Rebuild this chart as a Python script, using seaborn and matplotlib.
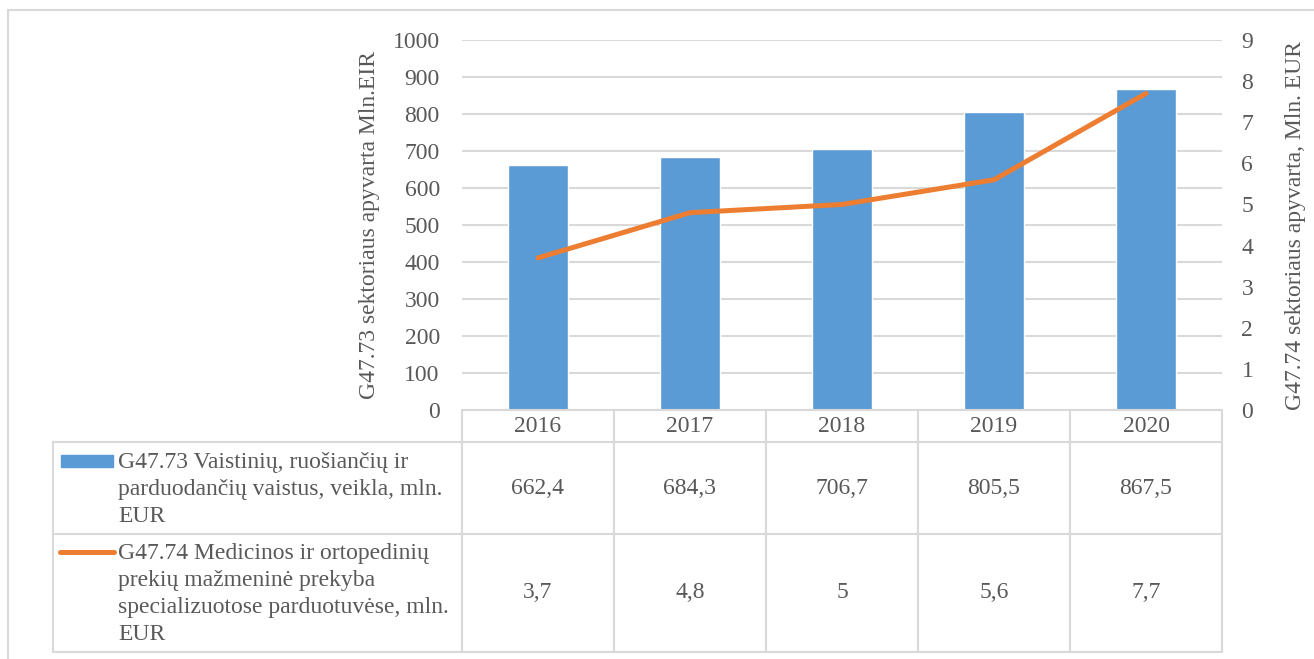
import numpy as np
import pandas as pd
import seaborn as sb
from matplotlib import pyplot as plt
from matplotlib.lines import Line2D
from matplotlib.patches import Rectangle

years = ['2016', '2017', '2018', '2019', '2020']
g4773 = [662.4, 684.3, 706.7, 805.5, 867.5]
g4774 = [3.7, 4.8, 5.0, 5.6, 7.7]

bar_name = 'G47.73 Vaistinių, ruošiančių ir\nparduodančių vaistus, veikla, mln.\nEUR'
line_name = 'G47.74 Medicinos ir ortopedinių\nprekių mažmeninė prekyba\nspecializuotose parduotuvėse, mln.\nEUR'
left_label = 'G47.73 sektoriaus apyvarta Mln.EIR'
right_label = 'G47.74 sektoriaus apyvarta, Mln. EUR'

blue = '#5B9BD5'
orange = '#ED7D31'
grey = '#595959'
grid = '#D9D9D9'

sb.set_style('white')
plt.rcParams['font.family'] = ['Liberation Serif', 'DejaVu Serif']
plt.rcParams['text.color'] = grey
fs = 17

W, H = 1314, 659
fig = plt.figure(figsize=(W / 100, H / 100), dpi=100)


def box(x0, y0, x1, y1):
    return [x0 / W, 1 - y1 / H, (x1 - x0) / W, (y1 - y0) / H]


# chart area (pixels)
L, R, T, B = 462, 1222, 40, 410
ax = fig.add_axes(box(L, T, R, B))
df = pd.DataFrame({'year': years, 'value': g4773})
sb.barplot(data=df, x='year', y='value', color=blue, width=0.4, saturation=1, ax=ax)
ax.set_xlim(-0.5, len(years) - 0.5)
ax.set_ylim(0, 1000)
ax.set_yticks(np.arange(0, 1001, 100))
ax.set_axisbelow(True)
ax.yaxis.grid(True, color=grid, linewidth=1.5)
ax.set_xticks([])
ax.set_xlabel('')
ax.set_ylabel(left_label, fontsize=fs, color=grey, labelpad=9)
ax.tick_params(axis='y', length=0, labelsize=fs, labelcolor=grey, pad=16)
for s in ax.spines.values():
    s.set_visible(False)

ax2 = ax.twinx()
sb.lineplot(x=np.arange(len(years)), y=g4774, color=orange, linewidth=3.6,
            solid_capstyle='round', ax=ax2)
ax2.set_ylim(0, 9)
ax2.set_yticks(np.arange(0, 10, 1))
ax2.set_ylabel(right_label, fontsize=fs, color=grey, labelpad=23, rotation=90)
ax2.tick_params(axis='y', length=0, labelsize=fs, labelcolor=grey, pad=14)
for s in ax2.spines.values():
    s.set_visible(False)

# overlay for frame and data table, in pixel coordinates
ov = fig.add_axes([0, 0, 1, 1], zorder=-1)
ov.set_xlim(0, W)
ov.set_ylim(H, 0)
ov.axis('off')
lw = 1.5
ov.add_line(Line2D([8, W], [10, 10], color=grid, lw=lw))
ov.add_line(Line2D([8, 8], [10, H], color=grid, lw=lw))

tab = fig.add_axes([0, 0, 1, 1], zorder=5)
tab.set_xlim(0, W)
tab.set_ylim(H, 0)
tab.axis('off')
tab.patch.set_alpha(0)
LL = 53
rows = [410, 442, 534, 652]
tab.add_line(Line2D([L, R], [rows[0], rows[0]], color=grid, lw=lw))
for y in rows[1:]:
    tab.add_line(Line2D([LL, R], [y, y], color=grid, lw=lw))
tab.add_line(Line2D([LL, LL], [rows[1], rows[3]], color=grid, lw=lw))
cw = (R - L) / len(years)
for i in range(len(years) + 1):
    x = L + i * cw
    tab.add_line(Line2D([x, x], [rows[0], rows[3]], color=grid, lw=lw))

fmt = lambda v: ('%g' % v).replace('.', ',')
for i, yr in enumerate(years):
    cx = L + (i + 0.5) * cw
    tab.text(cx, (rows[0] + rows[1]) / 2 + 1, yr, ha='center', va='center', fontsize=fs)
    tab.text(cx, (rows[1] + rows[2]) / 2, fmt(g4773[i]), ha='center', va='center', fontsize=fs)
    tab.text(cx, (rows[2] + rows[3]) / 2, fmt(g4774[i]), ha='center', va='center', fontsize=fs)

tab.add_patch(Rectangle((61, 455), 52, 12, color=blue))
tab.add_line(Line2D([60, 114], [552, 552], color=orange, lw=3.6, solid_capstyle='round'))
tab.text(118, 452, bar_name, ha='left', va='top', fontsize=fs, linespacing=1.38)
tab.text(118, 543, line_name, ha='left', va='top', fontsize=fs, linespacing=1.38)

fig.savefig('out.png', dpi=100)
